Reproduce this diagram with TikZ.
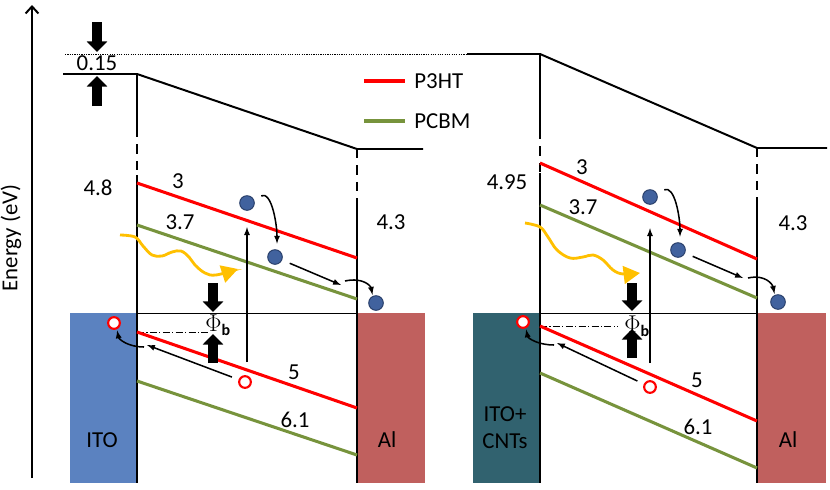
\documentclass[tikz,border=0pt]{standalone}
\usepackage{amsmath}
\usepackage{fontspec}
\setmainfont{Carlito}
\usetikzlibrary{arrows.meta}

\definecolor{itoblue}{RGB}{91,130,192}
\definecolor{cntteal}{RGB}{49,98,111}
\definecolor{alred}{RGB}{192,96,94}
\definecolor{pthred}{RGB}{255,0,0}
\definecolor{pcbmgreen}{RGB}{119,147,60}
\definecolor{elecblue}{RGB}{65,98,158}
\definecolor{elecedge}{RGB}{40,62,105}
\definecolor{photon}{RGB}{255,192,0}

\tikzset{
  level/.style={line width=1.7pt},
  gapline/.style={line width=1.7pt, dash pattern=on 8pt off 6pt},
  p3ht/.style={pthred, line width=2.6pt},
  pcbm/.style={pcbmgreen, line width=2.6pt},
  electron/.style={circle, fill=elecblue, draw=elecedge, line width=0.8pt, minimum size=12.5pt, inner sep=0pt},
  hole/.style={circle, fill=white, draw=pthred, line width=1.8pt, minimum size=10pt, inner sep=0pt},
  bigarrow/.style={line width=8pt, -{Triangle[length=9pt,width=17pt]}},
  hop/.style={>=latex, ->, line width=1.3pt},
  light/.style={photon, line width=2.4pt, -{Triangle[length=14pt,width=15pt]}},
  lbl/.style={inner sep=1pt},
}

\begin{document}
\begin{tikzpicture}[x=0.3mm, y=-0.3mm, font=\fontsize{19.5}{23}\selectfont]
\useasboundingbox (0,0) rectangle (830,489);
\fill[white] (0,0) rectangle (830,489);

\draw[line width=1.7pt, -{Straight Barb[length=6pt,width=11pt]}] (32,478) -- (32,5);
\node[rotate=90] (axis) at (11,238) {Energy (eV)};

\draw[line width=0.6pt, dash pattern=on 1pt off 1pt] (65,54) -- (467,54);
\draw[bigarrow] (97,22) -- (97,52);
\draw[bigarrow] (97,106) -- (97,76);
\node[lbl] (gap) at (97,63) {0.15};

\fill[itoblue] (70,313) rectangle (137,483);
\fill[alred] (357,313) rectangle (425,483);
\draw[level] (63,74) -- (137,74) -- (357,149) -- (423,149);
\draw[level] (137,74) -- (137,128);
\draw[gapline] (137,128) -- (137,175);
\draw[level] (137,175) -- (137,483);
\draw[gapline] (357,149) -- (357,202);
\draw[level] (357,202) -- (357,483);
\draw[line width=0.8pt] (137,313) -- (357,313);
\draw[line width=0.6pt, dash pattern=on 6pt off 2pt on 1pt off 2pt] (137,332) -- (208,332);

\draw[p3ht] (137,183) -- (357,258);
\draw[pcbm] (137,225) -- (357,299);
\draw[p3ht] (137,332) -- (357,408);
\draw[pcbm] (137,381) -- (357,455);

\node[lbl] (wf1) at (98,188) {4.8};
\node[lbl] (lumo1) at (178,181) {3};
\node[lbl] (acc1) at (180,222) {3.7};
\node[lbl] (al1) at (391,222) {4.3};
\node[lbl] (homo1) at (294,372) {5};
\node[lbl] (acchomo1) at (295,420) {6.1};
\node[lbl] (ito) at (102,440) {ITO};
\node[lbl] (alu1) at (387,440) {Al};

\draw[bigarrow] (213,283) -- (213,312);
\draw[bigarrow] (213,363) -- (213,334);
\node[lbl] (phi1) at (218,325) {$\Phi_{\text{\textbf{b}}}$};

\draw[light] plot[smooth, tension=0.6] coordinates {(120,235) (135,237) (143,246) (152,255) (162,256) (172,252) (181,251) (189,257) (195,265) (205,273) (216,275) (238,269)};

\node[electron] (e1) at (247,203) {};
\node[electron] (e2) at (275,257) {};
\node[electron] (e3) at (376,303) {};
\node[hole] (h1) at (114,323) {};
\node[hole] (h2) at (245,382) {};
\coordinate (exc1) at (247,362);
\coordinate (drift1) at (341,285);
\coordinate (turn1) at (345,281);
\coordinate (back1) at (147,345);
\coordinate (curl1) at (144,347);
\draw[hop, shorten >=14pt] (exc1) -- (e1);
\draw[hop, shorten <=7pt, shorten >=5pt] (e1.30) .. controls +(18,-8) and +(0,-25) .. (e2.75);
\draw[hop, shorten <=7pt] (e2) -- (drift1);
\draw[hop, shorten >=1pt] (turn1) .. controls +(18,-4) and +(-2,-10) .. (e3.115);
\draw[hop, shorten <=6pt] (h2) -- (back1);
\draw[hop, shorten >=1pt] (curl1) .. controls +(-16,0) and +(2,10) .. (h1.-65);

\draw[p3ht] (364,81) -- (405,81);
\node[lbl, anchor=west] (legp3ht) at (413,81) {P3HT};
\draw[pcbm] (364,121) -- (405,121);
\node[lbl, anchor=west] (legpcbm) at (413,121) {PCBM};

\fill[cntteal] (473,313) rectangle (540,483);
\fill[alred] (757,313) rectangle (826,483);
\draw[level] (467,54) -- (540,54) -- (757,148) -- (827,148);
\draw[level] (540,54) -- (540,130);
\draw[gapline] (540,130) -- (540,173);
\draw[level] (540,173) -- (540,483);
\draw[gapline] (757,148) -- (757,200);
\draw[level] (757,200) -- (757,483);
\draw[line width=0.8pt] (540,313) -- (757,313);
\draw[line width=0.6pt, dash pattern=on 6pt off 2pt on 1pt off 2pt] (540,326) -- (618,326);

\draw[p3ht] (540,163) -- (757,259);
\draw[pcbm] (540,205) -- (757,298);
\draw[p3ht] (540,326) -- (757,421);
\draw[pcbm] (540,373) -- (757,468);

\node[lbl] (wf2) at (507,182) {4.95};
\node[lbl] (lumo2) at (582,167) {3};
\node[lbl] (acc2) at (583,207) {3.7};
\node[lbl] (al2) at (793,223) {4.3};
\node[lbl] (homo2) at (697,380) {5};
\node[lbl] (acchomo2) at (698,427) {6.1};
\node[lbl, align=center] (itocnt) at (505,428) {ITO+\\CNTs};
\node[lbl] (alu2) at (788,440) {Al};

\draw[bigarrow] (632,283) -- (632,311);
\draw[bigarrow] (632,358) -- (632,329);
\node[lbl] (phi2) at (637,326) {$\Phi_{\text{\textbf{b}}}$};

\draw[light] plot[smooth, tension=0.6] coordinates {(525,223) (540,227) (548,237) (557,250) (570,258) (583,257) (593,255) (603,260) (613,270) (623,274) (640,273)};

\node[electron] (e4) at (650,197) {};
\node[electron] (e5) at (678,250) {};
\node[electron] (e6) at (778,302) {};
\node[hole] (h3) at (523,322) {};
\node[hole] (h4) at (650,387) {};
\coordinate (exc2) at (650,363);
\coordinate (drift2) at (743,278);
\coordinate (turn2) at (748,278);
\coordinate (back2) at (557,343);
\coordinate (curl2) at (554,345);
\draw[hop, shorten >=20pt] (exc2) -- (e4);
\draw[hop, shorten <=7pt, shorten >=5pt] (e4.30) .. controls +(18,-8) and +(0,-25) .. (e5.75);
\draw[hop, shorten <=7pt] (e5) -- (drift2);
\draw[hop, shorten >=1pt] (turn2) .. controls +(18,-4) and +(-2,-10) .. (e6.115);
\draw[hop, shorten <=6pt] (h4) -- (back2);
\draw[hop, shorten >=1pt] (curl2) .. controls +(-16,0) and +(2,10) .. (h3.-65);
\end{tikzpicture}
\end{document}
